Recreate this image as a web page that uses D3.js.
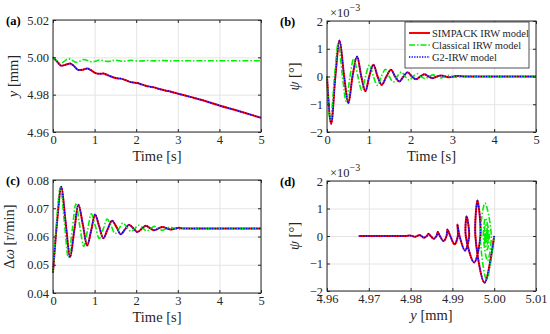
<!DOCTYPE html>
<html>
<head>
<meta charset="utf-8">
<script src="https://cdn.jsdelivr.net/npm/d3@7"></script>
<style>
  body { margin: 0; background: #fff; }
  svg, svg text { font-family: "Liberation Serif", "Times New Roman", serif; }
</style>
</head>
<body>
<svg id="fig" width="550" height="334"></svg>
<script>
// values (psi in 1e-3 deg, y in mm, dw in r/min)
// SIMPACK IRW model: sampled at the extremes / zero crossings of psi
const tRed = [0, 0.10, 0.20, 0.30, 0.41, 0.51, 0.61, 0.72, 0.82, 0.92, 1.01, 1.11, 1.21, 1.31, 1.42, 1.53,
  1.63, 1.73, 1.83, 1.93, 2.03, 2.13, 2.23, 2.33, 2.43, 2.53, 2.63, 2.73, 2.83, 2.93, 3.03, 3.13,
  3.3, 3.6, 4.0, 4.5, 5.0];
const yRed = [5.0000, 4.9977, 4.9955, 4.9960, 4.9967, 4.9952, 4.9932, 4.9934, 4.9940, 4.9930, 4.9917, 4.9912,
  4.9913, 4.9905, 4.9895, 4.9888, 4.9886, 4.9879, 4.9870, 4.9865, 4.9862, 4.9855, 4.9848, 4.9843,
  4.9839, 4.9832, 4.9826, 4.9821, 4.9816, 4.9810, 4.9804, 4.9798, 4.9788, 4.9770, 4.9742, 4.9710, 4.9676];
const psiRed = [0, -1.70, 0, 1.30, 0, -0.96, 0, 0.72, 0, -0.53, 0, 0.42, 0, -0.30, 0, 0.24,
  0, -0.18, 0, 0.15, 0, -0.10, 0, 0.08, 0, -0.06, 0, 0.04, 0, -0.03, 0, 0.02,
  0, 0, 0, 0, 0];
const dwRed = [0.0472, 0.0655, 0.0776, 0.0655, 0.0527, 0.0620, 0.0712, 0.0640, 0.0568, 0.0623, 0.0678, 0.0636,
  0.0594, 0.0625, 0.0656, 0.0632, 0.0608, 0.0625, 0.0642, 0.0629, 0.0616, 0.0627, 0.0638, 0.0630,
  0.0622, 0.0628, 0.0634, 0.0629, 0.0625, 0.0628, 0.0631, 0.0628, 0.0628, 0.0628, 0.0628, 0.0628, 0.0628];

// Classical IRW model
const tGreen = [0, 0.08, 0.18, 0.27, 0.37, 0.46, 0.55, 0.64, 0.74, 0.83, 0.92, 1.02, 1.11, 1.21, 1.30, 1.40,
  1.49, 1.59, 1.68, 1.78, 1.87, 1.97, 2.06, 2.16, 2.25, 2.35, 2.44, 2.54, 2.63, 2.73, 2.82, 2.92,
  3.01, 3.11, 3.20, 3.30, 3.6, 4.0, 4.5, 5.0];
const yGreen = [5.0000, 4.9982, 4.9967, 4.9978, 4.9993, 4.9984, 4.9974, 4.9979, 4.9988, 4.9983, 4.9976, 4.9979,
  4.9986, 4.9982, 4.9978, 4.9980, 4.9985, 4.9982, 4.9979, 4.9981, 4.9984, 4.9982, 4.9980, 4.9981,
  4.9983, 4.9982, 4.9981, 4.9982, 4.9983, 4.9982, 4.9981, 4.9982, 4.9982, 4.9982, 4.9982, 4.9982,
  4.9982, 4.9982, 4.9982, 4.9982];
const psiGreen = [0, -1.60, 0, 1.20, 0, -0.90, 0, 0.65, 0, -0.50, 0, 0.42, 0, -0.32, 0, 0.26,
  0, -0.20, 0, 0.16, 0, -0.13, 0, 0.10, 0, -0.08, 0, 0.06, 0, -0.05, 0, 0.04,
  0, -0.03, 0, 0.02, 0, 0, 0, 0];
const dwGreen = [0.0472, 0.0640, 0.0775, 0.0655, 0.0525, 0.0620, 0.0715, 0.0640, 0.0565, 0.0622, 0.0680, 0.0636,
  0.0593, 0.0627, 0.0662, 0.0637, 0.0610, 0.0628, 0.0648, 0.0632, 0.0618, 0.0628, 0.0640, 0.0630,
  0.0620, 0.0628, 0.0636, 0.0629, 0.0622, 0.0628, 0.0633, 0.0628, 0.0625, 0.0628, 0.0630, 0.0628,
  0.0628, 0.0628, 0.0628, 0.0628];

// G2-IRW model lies on top of the SIMPACK curves
const tBlue = tRed, yBlue = yRed, psiBlue = psiRed, dwBlue = dwRed;

const timeTicks = [0, 1, 2, 3, 4, 5];
const yTicksA = [4.96, 4.98, 5.00, 5.02];
const psiTicks = [-2, -1, 0, 1, 2];
const dwTicks = [0.04, 0.05, 0.06, 0.07, 0.08];
const yTicksD = [4.96, 4.97, 4.98, 4.99, 5.00, 5.01];
const legendNames = ['SIMPACK IRW model', 'Classical IRW model', 'G2-IRW model'];

const svg = d3.select('#fig');
const ink = '#262626';
const serif = '"Liberation Serif", "Times New Roman", serif';
const styles = [
  { stroke: '#ff0000', width: 2, dash: null },
  { stroke: '#00ee00', width: 1.6, dash: '6,2,1.5,2' },
  { stroke: '#0000ff', width: 1.5, dash: '1.3,1.3' }
];

function styleAxisText(sel) {
  sel.select('.domain').remove();
  sel.attr('font-family', serif).attr('font-size', 12.5);
  sel.selectAll('text').attr('fill', ink).attr('font-family', serif);
  sel.selectAll('line').attr('stroke', ink);
}

function panel(p) {
  const x = d3.scaleLinear().domain(p.xDomain).range([p.left, p.right]);
  const y = d3.scaleLinear().domain(p.yDomain).range([p.bottom, p.top]);
  const w = p.right - p.left, h = p.bottom - p.top;
  const g = svg.append('g');

  // grid
  g.append('g').attr('transform', `translate(0,${p.bottom})`)
    .call(d3.axisBottom(x).tickValues(p.xTicks).tickSize(-h).tickFormat(''))
    .call(a => a.select('.domain').remove())
    .selectAll('line').attr('stroke', '#e4e4e4');
  g.append('g').attr('transform', `translate(${p.left},0)`)
    .call(d3.axisLeft(y).tickValues(p.yTicks).tickSize(-w).tickFormat(''))
    .call(a => a.select('.domain').remove())
    .selectAll('line').attr('stroke', '#e4e4e4');

  // curves
  p.series.forEach((s, i) => {
    const line = d3.line().x(d => x(d[0])).y(d => y(d[1])).curve(p.curve);
    g.append('path')
      .datum(d3.zip(s[0], s[1]))
      .attr('d', line)
      .attr('fill', 'none')
      .attr('stroke', styles[i].stroke)
      .attr('stroke-width', styles[i].width)
      .attr('stroke-dasharray', styles[i].dash)
      .attr('stroke-linejoin', 'round');
  });

  // ticks pointing inward on all four sides
  g.append('g').attr('transform', `translate(0,${p.bottom})`)
    .call(d3.axisBottom(x).tickValues(p.xTicks).tickSize(-3).tickPadding(3).tickFormat(p.xFormat))
    .call(styleAxisText);
  g.append('g').attr('transform', `translate(0,${p.top})`)
    .call(d3.axisTop(x).tickValues(p.xTicks).tickSize(-3).tickFormat(''))
    .call(styleAxisText);
  g.append('g').attr('transform', `translate(${p.left},0)`)
    .call(d3.axisLeft(y).tickValues(p.yTicks).tickSize(-3).tickPadding(4).tickFormat(p.yFormat))
    .call(styleAxisText);
  g.append('g').attr('transform', `translate(${p.right},0)`)
    .call(d3.axisRight(y).tickValues(p.yTicks).tickSize(-3).tickFormat(''))
    .call(styleAxisText);

  g.append('rect')
    .attr('x', p.left).attr('y', p.top).attr('width', w).attr('height', h)
    .attr('fill', 'none').attr('stroke', ink).attr('stroke-width', 1);

  // panel tag
  g.append('text').attr('x', p.left - 47).attr('y', p.top + 4.5)
    .attr('font-family', serif).attr('font-weight', 'bold').attr('font-size', 12.5)
    .attr('fill', '#000').text(p.tag);

  // x title
  const xt = g.append('text').attr('x', (p.left + p.right) / 2).attr('y', p.bottom + 29)
    .attr('font-family', serif).attr('text-anchor', 'middle').attr('font-size', 14.5).attr('fill', ink);
  p.xTitle(xt);

  // y title
  const yt = g.append('text')
    .attr('transform', `translate(${p.yTitleX},${(p.top + p.bottom) / 2}) rotate(-90)`)
    .attr('font-family', serif).attr('text-anchor', 'middle').attr('font-size', 14.5).attr('fill', ink);
  p.yTitle(yt);

  if (p.exponent) {
    const e = g.append('text').attr('x', p.left + 3).attr('y', p.top - 4)
      .attr('font-family', serif).attr('font-size', 12.5).attr('fill', ink);
    e.append('tspan').text('\u00d710');
    e.append('tspan').attr('dy', -6).attr('font-size', 10).text('\u22123');
  }
  return { x, y, g };
}

const timeTitle = t => t.text('Time [s]');
const yMmTitle = t => {
  t.append('tspan').attr('font-style', 'italic').text('y');
  t.append('tspan').text(' [mm]');
};
const psiTitle = t => {
  t.append('tspan').attr('font-style', 'italic').text('\u03c8');
  t.append('tspan').text(' [\u00b0]');
};
const dwTitle = t => {
  t.append('tspan').text('\u0394');
  t.append('tspan').attr('font-style', 'italic').text('\u03c9');
  t.append('tspan').text(' [r/min]');
};
const intFmt = d3.format('d');

// (a) lateral displacement
panel({
  tag: '(a)', left: 53, right: 261, top: 20, bottom: 132,
  xDomain: [0, 5], yDomain: [4.96, 5.02], xTicks: timeTicks, yTicks: yTicksA,
  xFormat: intFmt, yFormat: d3.format('.2f'), curve: d3.curveMonotoneX,
  series: [[tRed, yRed], [tGreen, yGreen], [tBlue, yBlue]],
  xTitle: timeTitle, yTitle: yMmTitle, yTitleX: 18
});

// (b) yaw angle
const pb = panel({
  tag: '(b)', left: 327, right: 536, top: 21, bottom: 132,
  xDomain: [0, 5], yDomain: [-2, 2], xTicks: timeTicks, yTicks: psiTicks,
  xFormat: intFmt, yFormat: intFmt, curve: d3.curveMonotoneX,
  series: [[tRed, psiRed], [tGreen, psiGreen], [tBlue, psiBlue]],
  xTitle: timeTitle, yTitle: psiTitle, yTitleX: 299, exponent: true
});

// legend
const lg = pb.g.append('g').attr('transform', 'translate(405,22)');
lg.append('rect').attr('width', 124).attr('height', 46)
  .attr('fill', '#fff').attr('stroke', ink).attr('stroke-width', 0.8);
legendNames.forEach((name, i) => {
  const yy = 11 + i * 12;
  lg.append('line').attr('x1', 4).attr('x2', 25).attr('y1', yy).attr('y2', yy)
    .attr('stroke', styles[i].stroke).attr('stroke-width', styles[i].width)
    .attr('stroke-dasharray', styles[i].dash);
  lg.append('text').attr('x', 27).attr('y', yy).attr('dy', '0.35em')
    .attr('font-family', serif).attr('font-size', 10.5).attr('fill', ink).text(name);
});

// (c) speed difference
panel({
  tag: '(c)', left: 53, right: 261, top: 180, bottom: 293,
  xDomain: [0, 5], yDomain: [0.04, 0.08], xTicks: timeTicks, yTicks: dwTicks,
  xFormat: intFmt, yFormat: d3.format('.2f'), curve: d3.curveMonotoneX,
  series: [[tRed, dwRed], [tGreen, dwGreen], [tBlue, dwBlue]],
  xTitle: timeTitle, yTitle: dwTitle, yTitleX: 14
});

// (d) yaw angle against lateral displacement
panel({
  tag: '(d)', left: 327, right: 536, top: 181, bottom: 291,
  xDomain: [4.96, 5.01], yDomain: [-2, 2], xTicks: yTicksD, yTicks: psiTicks,
  xFormat: d3.format('.2f'), yFormat: intFmt, curve: d3.curveCatmullRom.alpha(0.5),
  series: [[yRed, psiRed], [yGreen, psiGreen], [yBlue, psiBlue]],
  xTitle: yMmTitle, yTitle: psiTitle, yTitleX: 299, exponent: true
});
</script>
</body>
</html>
